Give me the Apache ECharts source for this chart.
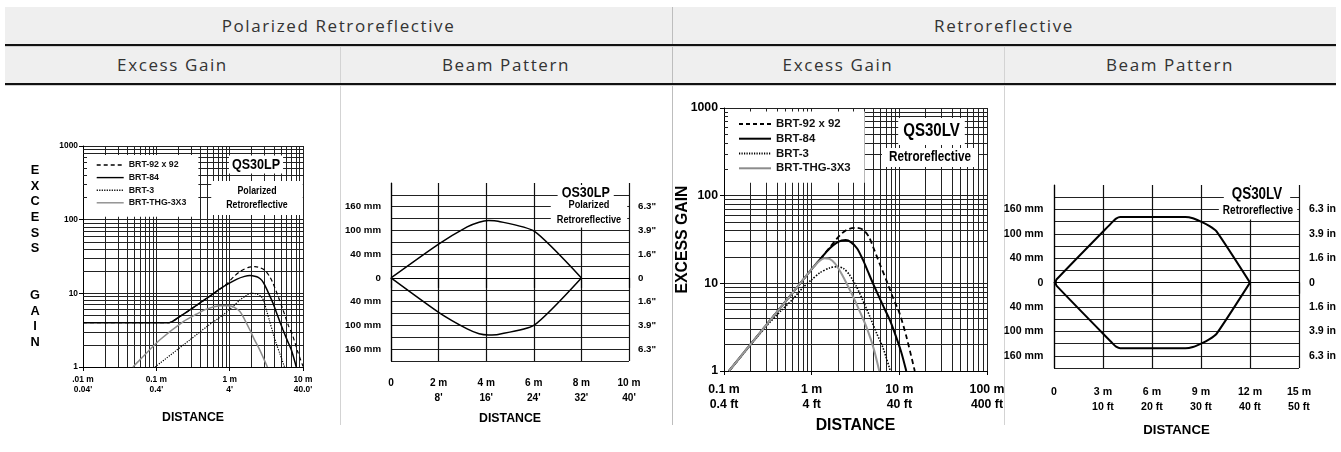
<!DOCTYPE html>
<html>
<head>
<meta charset="utf-8">
<title>QS30 excess gain and beam pattern</title>
<script src="https://cdn.jsdelivr.net/npm/echarts@6.0.0/dist/echarts.min.js"></script>
<style>
  html, body { margin: 0; padding: 0; background: #fff; }
  #page { position: relative; width: 1341px; height: 452px; overflow: hidden; }
  .band { position: absolute; left: 5px; width: 1331px; background: #efefef; }
  .rule { position: absolute; left: 5px; width: 1331px; }
  .vline { position: absolute; width: 1px; }
  .cell { position: absolute; text-align: center; font-family: 'Open Sans', sans-serif; font-size: 17px; letter-spacing: 1.6px; color: #333; }
  #chart { position: absolute; left: 0; top: 0; width: 1341px; height: 452px; }
</style>
</head>
<body>
<div id="page">
  <div class="band" style="top:7px;height:37px"></div>
  <div class="band" style="top:47px;height:36px"></div>
  <div class="vline" style="left:340px;top:47px;height:378px;background:#d3d3d3"></div>
  <div class="vline" style="left:672px;top:7px;height:418px;background:#bdbdbd"></div>
  <div class="vline" style="left:1004px;top:47px;height:378px;background:#d3d3d3"></div>
  <div class="rule" style="top:44px;height:2px;background:#111"></div>
  <div class="rule" style="top:46px;height:1px;background:#cfcfcf"></div>
  <div class="rule" style="top:83px;height:2px;background:#111"></div>
  <div class="rule" style="top:85px;height:1px;background:#cfcfcf"></div>
  <div class="cell" style="left:5px;width:667px;top:7px;line-height:37px">Polarized Retroreflective</div>
  <div class="cell" style="left:672px;width:664px;top:7px;line-height:37px">Retroreflective</div>
  <div class="cell" style="left:5px;width:335px;top:47px;line-height:36px">Excess Gain</div>
  <div class="cell" style="left:340px;width:332px;top:47px;line-height:36px">Beam Pattern</div>
  <div class="cell" style="left:672px;width:332px;top:47px;line-height:36px">Excess Gain</div>
  <div class="cell" style="left:1004px;width:332px;top:47px;line-height:36px">Beam Pattern</div>
  <div id="chart"></div>
</div>
<script>
var FONT = "'Liberation Sans Narrow', 'Noto Sans Condensed', 'Arial Narrow', 'Liberation Sans', sans-serif";

// reflector names (legend)
var reflectors = ['BRT-92 x 92', 'BRT-84', 'BRT-3', 'BRT-THG-3X3'];

// QS30LP excess gain, [distance m, gain]
var lpBrt92 = [[0.01,4],[0.15,4],[0.2,4.7],[0.29,6],[0.49,8.6],[0.82,12.3],[0.95,14],[1.15,17],[1.38,19.7],[1.8,22.5],[2.2,23],[2.6,22.3],[3.0,20.7],[3.5,17],[3.9,13.7],[4.6,9],[5.33,6],[6.3,3.7],[7.3,2.6],[8.5,1.6],[10,1.02]];
var lpBrt84 = [[0.01,4],[0.15,4],[0.2,4.7],[0.29,6],[0.49,8.6],[0.82,12.3],[1.24,15.5],[1.6,17],[1.9,17.4],[2.2,17.1],[2.45,16.5],[2.75,15],[3.0,13],[3.4,10],[3.9,7.35],[4.5,5],[5.33,3.2],[6.1,2.3],[6.93,1.71],[8.1,1]];
var lpBrt3 = [[0.096,1],[0.288,2.34],[0.5,3.6],[0.815,5.1],[1.1,6.6],[1.38,8.1],[1.7,9.4],[1.98,10],[2.35,9.8],[2.71,9.0],[2.95,7.6],[3.16,6.0],[3.5,4.2],[3.9,2.9],[4.3,2.1],[4.8,1.55],[5.6,1]];
var lpThg = [[0.048,1],[0.06,1.26],[0.112,2.34],[0.233,4.14],[0.35,5.2],[0.485,6.1],[0.736,6.76],[0.95,6.8],[1.11,6.6],[1.38,5.65],[1.6,4.4],[1.88,3.2],[2.2,2.3],[2.57,1.71],[3.27,1]];

// QS30LV excess gain, [distance m, gain]
var lvBrt92 = [[0.114,1],[0.3,3.3],[0.6,7.7],[1,14.5],[1.3,19.8],[1.6,25.5],[1.9,31.5],[2.2,37],[2.6,41.5],[3.2,43],[3.85,41],[4.5,34],[5,26.3],[6,16.5],[7.1,10.9],[8.5,6.8],[10.1,4.5],[12,2.5],[15,1]];
var lvBrt84 = [[0.114,1],[0.3,3.3],[0.6,7.7],[1,14.5],[1.3,19.8],[1.6,25],[1.9,28.8],[2.2,30.8],[2.45,31.2],[2.8,29.5],[3.3,25],[3.85,18.5],[4.4,13.5],[5,10],[6.5,5.6],[7.8,3.8],[9,2.6],[10.5,1.65],[12,1]];
var lvBrt3 = [[0.114,1],[0.3,3.2],[0.45,4.9],[0.6,6.5],[0.8,9],[1.0,11],[1.24,13.2],[1.6,15],[1.95,15.5],[2.3,14.8],[2.7,12.5],[3.24,9.2],[4.0,5.8],[4.6,4.2],[5.5,2.7],[6.5,1.85],[7.9,1]];
var lvThg = [[0.114,1],[0.3,3.3],[0.6,7.7],[1,14.5],[1.2,17.6],[1.4,19.3],[1.6,19],[1.85,16.8],[2.2,12.8],[2.96,7.1],[3.6,4.6],[4.2,3.2],[5.1,1.8],[5.9,1]];

// beam patterns, [distance m, grid step]
var lpBeamUpper = [[0,0],[2,2.85],[3.2,4.3],[3.7,4.7],[4.1,4.83],[4.5,4.78],[6,3.96],[8,0]];
var lpBeamLower = [[0,0],[2,-2.9],[3.2,-4.3],[3.7,-4.7],[4.1,-4.8],[4.5,-4.76],[6,-4.0],[8,0]];
var lvBeamUpper = [[0.1,0],[0.15,0.25],[3.6,5.0],[3.8,5.25],[4.05,5.38],[8.05,5.38],[8.5,5.28],[9.0,5.0],[9.5,4.65],[9.95,4.2],[12,0]];
var lvBeamLower = [[0.1,0],[0.15,-0.25],[3.6,-5.0],[3.8,-5.25],[4.05,-5.38],[8.05,-5.38],[8.5,-5.28],[9.0,-5.0],[9.5,-4.65],[9.95,-4.2],[12,0]];

// tick labels
var gainTicks = [1, 10, 100, 1000];
var gainLabels = ['1', '10', '100', '1000'];
var lpDistTicks = [0.01, 0.1, 1, 10];
var lpDistLabels = [".01 m\n0.04'", "0.1 m\n0.4'", "1 m\n4'", "10 m\n40.0'"];
var lvDistTicks = [0.1, 1, 10, 100];
var lvDistLabels = ['0.1 m\n0.4 ft', '1 m\n4 ft', '10 m\n40 ft', '100 m\n400 ft'];
var lpBeamTicks = [0, 2, 4, 6, 8, 10];
var lpBeamLabels = ['0', "2 m\n8'", "4 m\n16'", "6 m\n24'", "8 m\n32'", "10 m\n40'"];
var lvBeamTicks = [0, 3, 6, 9, 12, 15];
var lvBeamLabels = ['0', '3 m\n10 ft', '6 m\n20 ft', '9 m\n30 ft', '12 m\n40 ft', '15 m\n50 ft'];
var beamSteps = [6, 4, 2, 0, -2, -4, -6];
var beamMm = ['160 mm', '100 mm', '40 mm', '0', '40 mm', '100 mm', '160 mm'];
var lpBeamInch = ['6.3"', '3.9"', '1.6"', '0', '1.6"', '3.9"', '6.3"'];
var lvBeamInch = ['6.3 in', '3.9 in', '1.6 in', '0', '1.6 in', '3.9 in', '6.3 in'];
var minorSteps = [2, 3, 4, 5, 6, 7, 8, 9];

// the original lettering is a narrow bold face: measure what we got
var measure = document.createElement('canvas').getContext('2d');
measure.font = 'bold 14px ' + FONT;
var squeeze = Math.min(1, 59 / measure.measureText('DISTANCE').width);
var shrink = Math.max(0.88, squeeze);
function fs(n) { return Math.round(n * shrink * 10) / 10; }

function minors(decades) {
    var out = [];
    decades.forEach(function (d) {
        minorSteps.forEach(function (k) { out.push(+(d * k).toPrecision(6)); });
    });
    return out;
}

function pick(ticks, labels) {
    return function (v) {
        for (var i = 0; i < ticks.length; i++) {
            if (Math.abs(v - ticks[i]) <= 1e-9 + 1e-6 * Math.abs(ticks[i])) return labels[i];
        }
        return '';
    };
}

function bold(size, extra) {
    var s = {fontFamily: FONT, fontWeight: 'bold', fontSize: fs(size), color: '#000'};
    for (var k in extra) s[k] = extra[k];
    return s;
}

// log grid lines between the decades
function gridSeries(xi, yi, xs, ys) {
    return {
        type: 'line', name: 'grid', xAxisIndex: xi, yAxisIndex: yi, data: [], z: 1, silent: true,
        markLine: {
            silent: true, z: 1, symbol: ['none', 'none'], animation: false,
            label: {show: false}, emphasis: {disabled: true},
            lineStyle: {color: '#222', width: 1, type: 'solid'},
            data: xs.map(function (v) { return {xAxis: v}; }).concat(ys.map(function (v) { return {yAxis: v}; }))
        }
    };
}

function curve(name, data, xi, yi, color, width, type) {
    return {
        type: 'line', name: name, data: data, xAxisIndex: xi, yAxisIndex: yi,
        symbol: 'none', smooth: 0.25, z: 3,
        lineStyle: {color: color, width: width, type: type},
        itemStyle: {color: color}
    };
}

function beam(data, xi, yi, width) {
    return {
        type: 'line', name: 'beam', data: data, xAxisIndex: xi, yAxisIndex: yi,
        symbol: 'none', smooth: 0.2, z: 3,
        lineStyle: {color: '#000', width: width}
    };
}

function logAxis(o) {
    return {
        type: 'log', logBase: 10, gridIndex: o.grid, min: o.min, max: o.max,
        axisLine: {show: true, lineStyle: {color: '#000', width: 1}},
        axisTick: {show: true, length: 4, lineStyle: {color: '#000'}},
        axisLabel: {formatter: pick(o.ticks, o.labels), margin: o.margin, showMinLabel: true, showMaxLabel: true,
            fontFamily: FONT, fontWeight: 'bold', fontSize: fs(o.size), lineHeight: o.lh, color: '#000'},
        splitLine: {show: true, lineStyle: {color: '#222', width: 1}},
        name: o.name, nameLocation: 'middle', nameGap: o.nameGap, nameRotate: o.nameRotate,
        nameMoveOverlap: o.moveName !== false,
        nameTextStyle: o.nameStyle
    };
}

function beamX(o) {
    return {
        type: 'value', gridIndex: o.grid, min: 0, max: o.max, interval: o.interval,
        axisLine: {show: true, lineStyle: {color: '#000', width: 1}},
        axisTick: {show: true, length: o.tick, lineStyle: {color: '#000', width: 1.2}},
        axisLabel: {formatter: pick(o.ticks, o.labels), margin: o.margin, showMinLabel: true, showMaxLabel: true,
            fontFamily: FONT, fontWeight: 'bold', fontSize: fs(o.size), lineHeight: o.lh, color: '#000'},
        splitLine: {show: true, lineStyle: {color: '#111', width: 1.2}},
        name: 'DISTANCE', nameLocation: 'middle', nameGap: o.nameGap, nameTextStyle: bold(o.nameSize)
    };
}

function beamY(o) {
    return {
        type: 'value', gridIndex: o.grid, position: o.position, min: -7, max: 8, interval: 1,
        axisLine: {show: o.line, lineStyle: {color: '#000', width: 1.2}},
        axisTick: {show: false},
        axisLabel: {formatter: pick(beamSteps, o.labels), margin: o.margin, fontFamily: FONT, fontWeight: 'bold', fontSize: fs(o.size), color: '#000'},
        splitLine: {show: o.split, showMaxLine: false, lineStyle: {color: '#222', width: 1}}
    };
}

// white-backed model tags laid over the grid, squeezed to the narrow face
function tag(text, x, y, size, lh, pad) {
    return {
        type: 'text', z: 100, silent: true, x: x, y: y, scaleX: squeeze,
        style: {text: text, x: 0, y: 0, align: 'center', verticalAlign: 'middle',
            font: 'bold ' + size + 'px ' + FONT, lineHeight: lh, fill: '#000',
            backgroundColor: '#fff', padding: [pad[0], pad[1] / squeeze]}
    };
}

var chart = echarts.init(document.getElementById('chart'), null, {renderer: 'canvas'});

chart.setOption({
    animation: false,
    backgroundColor: 'transparent',
    grid: [
        {left: 83, top: 146, width: 220, height: 221},
        {left: 391, top: 183, width: 238, height: 178},
        {left: 724, top: 108, width: 263, height: 263},
        {left: 1054, top: 185, width: 245, height: 183}
    ],
    legend: [
        {
            data: reflectors, orient: 'vertical', left: 87, top: 155, z: 20,
            itemWidth: 27, itemHeight: 8, itemGap: 0.6, padding: [4, 12, 8, 9],
            backgroundColor: '#fff', selectedMode: false, itemStyle: {opacity: 0},
            lineStyle: {width: 1.4},
            textStyle: bold(10, {lineHeight: 12, color: '#111'})
        },
        {
            data: reflectors, orient: 'vertical', left: 728, top: 111.5, z: 20,
            itemWidth: 32, itemHeight: 10, itemGap: 0, padding: [5, 14, 7, 10],
            backgroundColor: '#fff', selectedMode: false, itemStyle: {opacity: 0},
            lineStyle: {width: 2},
            textStyle: bold(13, {lineHeight: 14.8, color: '#111'})
        }
    ],
    xAxis: [
        logAxis({grid: 0, min: 0.01, max: 10, ticks: lpDistTicks, labels: lpDistLabels, size: 9.5, lh: 10, margin: 8,
            name: 'DISTANCE', nameGap: 45, nameStyle: bold(14)}),
        beamX({grid: 1, max: 10, interval: 2, ticks: lpBeamTicks, labels: lpBeamLabels, size: 11.5, lh: 15.6, margin: 14,
            tick: 10, nameGap: 52, nameSize: 14}),
        logAxis({grid: 2, min: 0.1, max: 100, ticks: lvDistTicks, labels: lvDistLabels, size: 14, lh: 15.7, margin: 10.5,
            name: 'DISTANCE', nameGap: 46, nameStyle: bold(18)}),
        beamX({grid: 3, max: 15, interval: 3, ticks: lvBeamTicks, labels: lvBeamLabels, size: 12, lh: 14.4, margin: 17,
            tick: 11, nameGap: 56, nameSize: 15})
    ],
    yAxis: [
        logAxis({grid: 0, min: 1, max: 1000, ticks: gainTicks, labels: gainLabels, size: 9.5, lh: 10, margin: 5,
            name: 'E\nX\nC\nE\nS\nS\n\n\nG\nA\nI\nN', nameGap: 48, nameRotate: 0,
            nameStyle: bold(14.5, {lineHeight: 15.6, align: 'center', verticalAlign: 'middle'})}),
        beamY({grid: 1, position: 'left', labels: beamMm, size: 11, margin: 10, line: true, split: true}),
        beamY({grid: 1, position: 'right', labels: lpBeamInch, size: 11, margin: 9, line: false, split: false}),
        logAxis({grid: 2, min: 1, max: 1000, ticks: gainTicks, labels: gainLabels, size: 14, lh: 15, margin: 6,
            name: 'EXCESS GAIN', nameGap: 33, moveName: false, nameStyle: bold(18)}),
        beamY({grid: 3, position: 'left', labels: beamMm, size: 12, margin: 10.7, line: true, split: true}),
        beamY({grid: 3, position: 'right', labels: lvBeamInch, size: 12, margin: 10, line: false, split: false})
    ],
    series: [
        gridSeries(0, 0, minors([0.01, 0.1, 1]), minors([1, 10, 100])),
        curve(reflectors[0], lpBrt92, 0, 0, '#000', 1.2, [4, 3]),
        curve(reflectors[1], lpBrt84, 0, 0, '#000', 1.5, 'solid'),
        curve(reflectors[2], lpBrt3, 0, 0, '#000', 1.2, [1.2, 1.3]),
        curve(reflectors[3], lpThg, 0, 0, '#8c8c8c', 1.5, 'solid'),
        beam(lpBeamUpper, 1, 1, 1.5),
        beam(lpBeamLower, 1, 1, 1.5),
        gridSeries(2, 3, minors([0.1, 1, 10]), minors([1, 10, 100])),
        curve(reflectors[0], lvBrt92, 2, 3, '#000', 1.8, [5, 3.5]),
        curve(reflectors[1], lvBrt84, 2, 3, '#000', 2, 'solid'),
        curve(reflectors[2], lvBrt3, 2, 3, '#000', 1.6, [1.5, 1.5]),
        curve(reflectors[3], lvThg, 2, 3, '#999', 2, 'solid'),
        beam(lvBeamUpper, 3, 4, 2),
        beam(lvBeamLower, 3, 4, 2)
    ],
    graphic: [
        tag('QS30LP', 256, 164.5, 15, 16, [1, 3]),
        tag('Polarized\nRetroreflective', 257, 198, 10.5, 14, [3, 15]),
        tag('QS30LP', 585.7, 192.5, 15, 15, [0, 4]),
        tag('Polarized\nRetroreflective', 589, 212.5, 11, 15, [0, 6]),
        tag('QS30LV', 931.5, 131.5, 18, 19, [4, 5]),
        tag('Retroreflective', 930, 157.5, 14, 15, [2, 7]),
        tag('QS30LV', 1257, 195, 16, 16, [0, 8]),
        tag('Retroreflective', 1258, 210.5, 12, 14, [2, 4])
    ]
});
</script>
</body>
</html>
